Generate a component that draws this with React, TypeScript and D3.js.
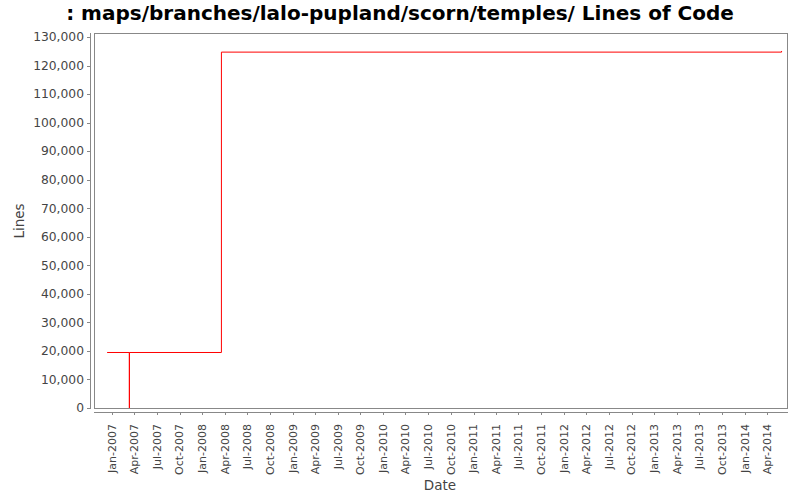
import React from "react";
import * as d3 from "d3";

const title = ": maps/branches/lalo-pupland/scorn/temples/ Lines of Code";
const dates = ["2006-12-12", "2007-03-12", "2007-03-12", "2008-03-18", "2014-05-30"];
const lines = [19450, 0, 19450, 124700, 125100];
const yTicks = [0, 10000, 20000, 30000, 40000, 50000, 60000, 70000, 80000, 90000, 100000, 110000, 120000, 130000];
const xDomain = ["2006-10-20", "2014-06-25"];
const yMax = 131400;

const W = 800, H = 500;
const L = 94, R = 788, T = 33, B = 408;
const font = "'DejaVu Sans', sans-serif";
const gray = "#888888";
const textC = "#444444";

export default function App() {
  const parse = d3.timeParse("%Y-%m-%d");
  const x = d3.scaleTime().domain(xDomain.map((d) => parse(d) as Date)).range([L, R]);
  const y = d3.scaleLinear().domain([0, yMax]).range([B, T]);
  const data = dates.map((d, i) => ({ date: parse(d) as Date, v: lines[i] }));
  const line = d3.line<{ date: Date; v: number }>().x((d) => x(d.date)).y((d) => y(d.v)).curve(d3.curveStepAfter);
  const xTicks = d3.timeMonth.every(3)!.range(new Date(2007, 0, 1), new Date(2014, 4, 1));
  const fmt = d3.timeFormat("%b-%Y");
  const yFmt = d3.format(",");
  const axisX = 90;
  const axisY = 412;
  return (
    <svg width={W} height={H} style={{ display: "block", position: "absolute", left: 0, top: 0, background: "#fff" }}>
      <rect x={0} y={0} width={W} height={H} fill="#fff" />
      <text x={400} y={20} textAnchor="middle" fontFamily={font} fontWeight="bold" fontSize={20} fill="#000">{title}</text>
      <rect x={L + 0.5} y={T + 0.5} width={R - L - 1} height={B - T} fill="#fff" stroke={gray} strokeWidth={1} />
      <line x1={axisX + 0.5} x2={axisX + 0.5} y1={T} y2={B + 1} stroke={gray} />
      {yTicks.map((t) => (
        <g key={t}>
          <line x1={axisX - 3} x2={axisX} y1={Math.round(y(t)) + 0.5} y2={Math.round(y(t)) + 0.5} stroke={gray} />
          <text x={axisX - 6} y={y(t)} dy="0.35em" textAnchor="end" fontFamily={font} fontSize={12.3} fill={textC}>{yFmt(t)}</text>
        </g>
      ))}
      <line x1={L} x2={R} y1={axisY + 0.5} y2={axisY + 0.5} stroke={gray} />
      {xTicks.map((t) => (
        <g key={t.getTime()}>
          <line x1={Math.round(x(t)) + 0.5} x2={Math.round(x(t)) + 0.5} y1={axisY} y2={axisY + 3} stroke={gray} />
          <text transform={`translate(${x(t)},${axisY + 12}) rotate(-90)`} dy="0.35em" textAnchor="end" fontFamily={font} fontSize={11} fill={textC}>{fmt(t)}</text>
        </g>
      ))}
      <path d={line(data) || ""} fill="none" stroke="#ff0000" strokeWidth={1} />
      <text transform="translate(24,221) rotate(-90)" textAnchor="middle" fontFamily={font} fontSize={13.5} fill={textC}>Lines</text>
      <text x={440} y={490} textAnchor="middle" fontFamily={font} fontSize={13.5} fill={textC}>Date</text>
    </svg>
  );
}
